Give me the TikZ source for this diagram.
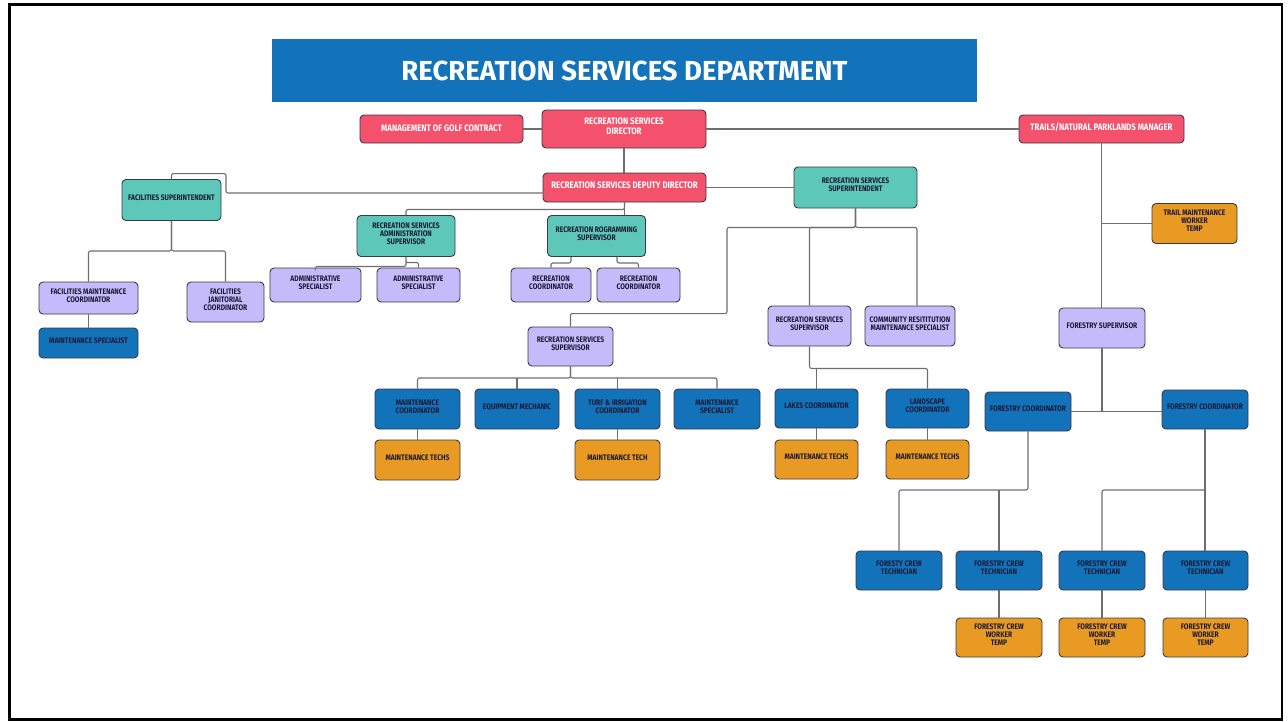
\documentclass[tikz,border=0pt]{standalone}
\usepackage{fontspec}
\setmainfont{Fira Sans}
\newfontfamily\boxfont{Fira Sans}[FakeStretch=0.84]
\usepackage{tikz}
\usetikzlibrary{positioning}
\definecolor{RecBlue}{HTML}{1273BA}
\definecolor{RecPink}{HTML}{F4516C}
\definecolor{RecTeal}{HTML}{5DC8B9}
\definecolor{RecLilac}{HTML}{C6BBFA}
\definecolor{RecAmber}{HTML}{E89A22}
\definecolor{RecInk}{HTML}{1C1B36}
\definecolor{RecEdge}{HTML}{3A3A44}
\definecolor{RecLine}{HTML}{6E6E6E}

\begin{document}
\begin{tikzpicture}[x=1pt,y=-1pt] % pixel grid, y grows downward
    \tikzstyle{orgbox}=[draw=RecEdge,line width=0.9pt,rounded corners=4pt,
      align=center,inner sep=1pt,text depth=5pt,text=RecInk,
      font=\boxfont\bfseries\fontsize{8}{8}\selectfont,
      minimum width=86pt,minimum height=40pt]
    \tikzstyle{pinkbox}=[orgbox,fill=RecPink,text=white,
      font=\boxfont\bfseries\fontsize{9.4}{10}\selectfont]
    \tikzstyle{tealbox}=[orgbox,fill=RecTeal,minimum width=98pt,minimum height=41pt]
    \tikzstyle{lilacbox}=[orgbox,fill=RecLilac]
    \tikzstyle{bluebox}=[orgbox,fill=RecBlue]
    \tikzstyle{amberbox}=[orgbox,fill=RecAmber]
    \tikzstyle{link}=[draw=RecLine,line width=1.1pt,rounded corners=2pt]

    \useasboundingbox (0,0) rectangle (1288,721);
    \draw[line width=2.5pt] (9.5,4.5) rectangle (1282,719.5);

    % banner
    \node[fill=RecBlue,minimum width=705pt,minimum height=63pt,text=white,
      font=\bfseries\fontsize{27.5}{30}\selectfont] (banner) at (624.5,70.5)
      {RECREATION SERVICES DEPARTMENT};

    % top management
    \node[pinkbox,minimum width=163pt,minimum height=28pt,text depth=2pt] (golf) at (441.5,129) {MANAGEMENT OF GOLF CONTRACT};
    \node[pinkbox,minimum width=164pt,minimum height=38pt] (director) at (624,129) {RECREATION SERVICES\\DIRECTOR};
    \node[pinkbox,minimum width=165pt,minimum height=28pt] (trails) at (1101.5,129) {TRAILS/NATURAL PARKLANDS MANAGER};
    \node[pinkbox,minimum width=163pt,minimum height=29pt] (deputy) at (624.5,187.5) {RECREATION SERVICES DEPUTY DIRECTOR};

    % superintendents and supervisors
    \node[tealbox,minimum width=99pt] (facsup) at (171.5,200) {FACILITIES SUPERINTENDENT};
    \node[tealbox,minimum width=123pt] (rsssup) at (855.5,187.5) {RECREATION SERVICES\\SUPERINTENDENT};
    \node[tealbox] (adminsup) at (406,236) {RECREATION SERVICES\\ADMINISTRATION\\SUPERVISOR};
    \node[tealbox] (progsup) at (596.5,236) {RECREATION ROGRAMMING\\SUPERVISOR};

    \node[lilacbox,minimum width=99pt,minimum height=32pt] (facmaint) at (88.5,298) {FACILITIES MAINTENANCE\\COORDINATOR};
    \node[bluebox,minimum width=99pt,minimum height=30pt] (facspec) at (88.5,343) {MAINTENANCE SPECIALIST};
    \node[lilacbox,minimum width=77pt] (janitor) at (225.5,302) {FACILITIES\\JANITORIAL\\COORDINATOR};
    \node[lilacbox,minimum width=91pt,minimum height=34pt] (adminA) at (315.5,285) {ADMINISTRATIVE\\SPECIALIST};
    \node[lilacbox,minimum width=83pt,minimum height=34pt] (adminB) at (418.5,285) {ADMINISTRATIVE\\SPECIALIST};
    \node[lilacbox,minimum width=80pt,minimum height=34pt] (reccoA) at (551,285) {RECREATION\\COORDINATOR};
    \node[lilacbox,minimum width=83pt,minimum height=34pt] (reccoB) at (638.5,285) {RECREATION\\COORDINATOR};
    \node[lilacbox,minimum width=85pt,minimum height=39pt] (rssA) at (570.5,346.5) {RECREATION SERVICES\\SUPERVISOR};
    \node[lilacbox,minimum width=83pt] (rssB) at (809.5,326) {RECREATION SERVICES\\SUPERVISOR};
    \node[lilacbox,minimum width=90pt] (commres) at (910,326) {COMMUNITY RESITITUTION\\MAINTENANCE SPECIALIST};
    \node[lilacbox] (forsup) at (1102,328) {FORESTRY SUPERVISOR};
    \node[amberbox,minimum width=85pt] (trailtemp) at (1194.5,223.5) {TRAIL MAINTENANCE\\WORKER\\TEMP};

    % park maintenance crews
    \node[bluebox,minimum width=85pt] (mcoord) at (417.5,409) {MAINTENANCE\\COORDINATOR};
    \node[bluebox,minimum width=84pt] (equip) at (517,409) {EQUIPMENT MECHANIC};
    \node[bluebox,minimum width=85pt] (turf) at (617.5,409) {TURF \& IRRIGATION\\COORDINATOR};
    \node[bluebox] (mspec) at (717,409) {MAINTENANCE\\SPECIALIST};
    \node[bluebox,minimum width=83pt,minimum height=39pt] (lakes) at (816.5,408.5) {LAKES COORDINATOR};
    \node[bluebox,minimum width=83pt,minimum height=39pt] (landscape) at (927.5,408.5) {LANDSCAPE\\COORDINATOR};
    \node[amberbox,minimum width=85pt] (techsA) at (417.5,460) {MAINTENANCE TECHS};
    \node[amberbox,minimum width=85pt] (techB) at (617.5,460) {MAINTENANCE TECH};
    \node[amberbox,minimum width=83pt,minimum height=39pt] (techsC) at (816.5,459.5) {MAINTENANCE TECHS};
    \node[amberbox,minimum width=83pt,minimum height=39pt] (techsD) at (927.5,459.5) {MAINTENANCE TECHS};

    % forestry
    \node[bluebox,minimum height=39pt] (fcoordA) at (1028,411.5) {FORESTRY COORDINATOR};
    \node[bluebox,minimum height=39pt] (fcoordB) at (1205,409.5) {FORESTRY COORDINATOR};
    \node[bluebox,minimum height=39pt] (crew1) at (899,570.5) {FORESTY CREW\\TECHNICIAN};
    \node[bluebox,minimum height=39pt] (crew2) at (999,570.5) {FORESTRY CREW\\TECHNICIAN};
    \node[bluebox,minimum height=39pt] (crew3) at (1102,570.5) {FORESTRY CREW\\TECHNICIAN};
    \node[bluebox,minimum height=39pt,minimum width=85pt] (crew4) at (1205.5,570.5) {FORESTRY CREW\\TECHNICIAN};
    \node[amberbox,minimum height=39pt] (temp2) at (999,637.5) {FORESTRY CREW\\WORKER\\TEMP};
    \node[amberbox,minimum height=39pt] (temp3) at (1102,637.5) {FORESTRY CREW\\WORKER\\TEMP};
    \node[amberbox,minimum height=39pt,minimum width=85pt] (temp4) at (1205.5,637.5) {FORESTRY CREW\\WORKER\\TEMP};

    % reporting lines, top
    \draw[link] (golf.east) -- (director.west);
    \draw[link] (director.east) -- (trails.west);
    \draw[link] (director.south) -- (director.south |- deputy.north);
    \draw[link] ([yshift=-5.5pt]deputy.west) -| ([xshift=54.5pt,yshift=5.5pt]facsup.north) -| (facsup.north);
    \draw[link] (deputy.east) -- (deputy.east -| rsssup.west);
    \draw[link] (deputy.south) -- ++(0,7) -| (adminsup.north);
    \draw[link] (deputy.south) -- (deputy.south |- progsup.north);

    % facilities
    \draw[link] (facsup.south) -- ++(0,30) -| (facmaint.north);
    \draw[link] (facsup.south) -- ++(0,30) -| (janitor.north);
    \draw[link] (facmaint.south) -- (facspec.north);

    % administration and programming
    \draw[link] (adminsup.south) -- ++(0,9.5) -| (adminA.north);
    \draw[link] ([yshift=-5.5pt]adminsup.south) -| (adminB.north);
    \draw[link] ([xshift=-25.5pt]progsup.south) -- ++(0,6) -| (reccoA.north);
    \draw[link] ([xshift=20.5pt]progsup.south) -- ++(0,6) -| (reccoB.north);

    % recreation services superintendent
    \draw[link] (rsssup.south) -- ++(0,19) -| ([xshift=156.5pt,yshift=13pt]rssA.north) -| (rssA.north);
    \draw[link] (rsssup.south) -- ++(0,19) -| (rssB.north);
    \draw[link] (rsssup.south) -- ++(0,19) -| ([xshift=7pt]commres.north);

    \coordinate (busA) at ([yshift=-11.5pt]rssA.south);
    \draw[link] (rssA.south) -- (busA) -| (mcoord.north);
    \draw[link] (rssA.south) -- (busA) -| (mspec.north);
    \draw[link] (equip.north) -- (equip.north |- busA);
    \draw[link] (turf.north) -- (turf.north |- busA);
    \draw[link] (mcoord.south) -- (techsA.north);
    \draw[link] (turf.south) -- (techB.north);

    \coordinate (busB) at ([yshift=-22pt]rssB.south);
    \draw[link] (rssB.south) -- (busB) -| (landscape.north);
    \draw[link] (lakes.north) -- (lakes.north |- busB);
    \draw[link] (lakes.south) -- (techsC.north);
    \draw[link] (landscape.south) -- (techsD.north);

    % trails and forestry
    \draw[link] (trails.south) -- (trails.south |- forsup.north);
    \draw[link] (trailtemp.west) -- (trailtemp.west -| trails.south);
    \coordinate (forfork) at (forsup.south |- fcoordA.east);
    \draw[link] (forsup.south) -- (forfork);
    \draw[link] (fcoordA.east) -- (forfork) -- (forfork -| fcoordB.west);

    \coordinate (crewbus) at (0,490);
    \draw[link] (fcoordA.south) |- (crew1.north |- crewbus) -- (crew1.north);
    \draw[link] (crew2.north) -- (crew2.north |- crewbus);
    \draw[link] (fcoordB.south) -- (fcoordB.south |- crew4.north);
    \draw[link] (fcoordB.south |- crewbus) -| (crew3.north);
    \draw[link] (crew2.south) -- (temp2.north);
    \draw[link] (crew3.south) -- (temp3.north);
    \draw[link] (crew4.south) -- (temp4.north);
  \end{tikzpicture}
\end{document}
